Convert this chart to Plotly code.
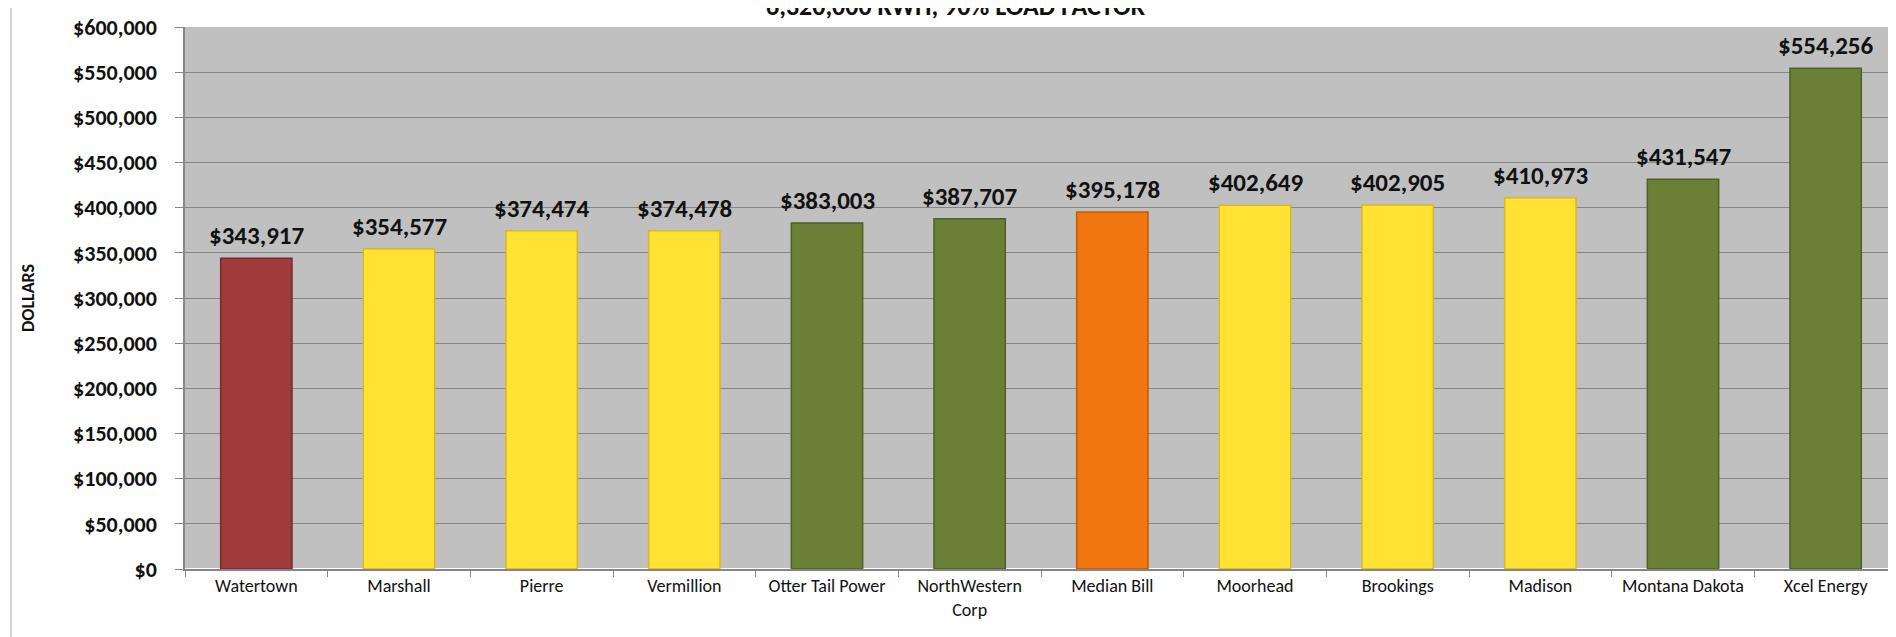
import plotly.graph_objects as go

categories = ["Watertown", "Marshall", "Pierre", "Vermillion", "Otter Tail Power",
              "NorthWestern<br>Corp", "Median Bill", "Moorhead", "Brookings", "Madison",
              "Montana Dakota", "Xcel Energy"]
bills = [343917, 354577, 374474, 374478, 383003, 387707, 395178, 402649, 402905,
         410973, 431547, 554256]
bar_groups = ["red", "yellow", "yellow", "yellow", "green", "green", "orange",
              "yellow", "yellow", "yellow", "green", "green"]

title_text = "6,320,000 KWH, 90% LOAD FACTOR"
y_title = "DOLLARS"

fill = {"red": "#A03B3C", "yellow": "#FFE233", "green": "#6A8037", "orange": "#F2760F"}
edge = {"red": "#7A2A2A", "yellow": "#D9B820", "green": "#4E5F27", "orange": "#C25A08"}

FONT = "Carlito, Lato, 'Open Sans', sans-serif"

fig = go.Figure()
fig.add_trace(go.Bar(
    x=categories, y=bills,
    marker=dict(color=[fill[g] for g in bar_groups],
                line=dict(color=[edge[g] for g in bar_groups], width=1.5)),
    hoverinfo="x+y",
))

for c, v in zip(categories, bills):
    fig.add_annotation(x=c, y=v, text=f"<b>${v:,}</b>", showarrow=False, yanchor="bottom",
                       yshift=5, font=dict(family=FONT, size=25, color="#111111"))

fig.add_annotation(xref="paper", yref="paper", x=(948 - 177) / 1712, y=1.0,
                   xanchor="center", yanchor="bottom", yshift=3, text=f"<b>{title_text}</b>",
                   showarrow=False, font=dict(family=FONT, size=26, color="#111111"))

fig.add_shape(type="line", xref="paper", yref="paper",
              x0=(3 - 177) / 1712, x1=(3 - 177) / 1712, y0=-0.3, y1=1.1,
              line=dict(color="#A6A6A6", width=1))

fig.update_layout(
    width=1896, height=637,
    margin=dict(l=177, r=7, t=19, b=76),
    paper_bgcolor="white", plot_bgcolor="#C0C0C0",
    bargap=0.5, showlegend=False,
    font=dict(family=FONT, color="#111111"),
)
fig.update_xaxes(
    showline=True, linecolor="#868686", linewidth=1.5,
    ticks="outside", tickson="boundaries", ticklen=6, tickcolor="#868686",
    tickfont=dict(family=FONT, size=18, color="#111111"),
    showgrid=False,
)
fig.update_yaxes(
    range=[0, 600000], dtick=50000, tickprefix="$", tickformat=",",
    showline=True, linecolor="#868686", linewidth=1.5,
    ticks="outside", ticklen=8, tickcolor="#868686",
    ticklabelstandoff=14,
    gridcolor="#868686", gridwidth=1,
    tickfont=dict(family=FONT, size=22, color="#111111", weight="bold"),
    title=dict(text=f"<b>{y_title}</b>", font=dict(family=FONT, size=18, color="#111111"),
               standoff=34),
)

fig.write_html("out.html")
